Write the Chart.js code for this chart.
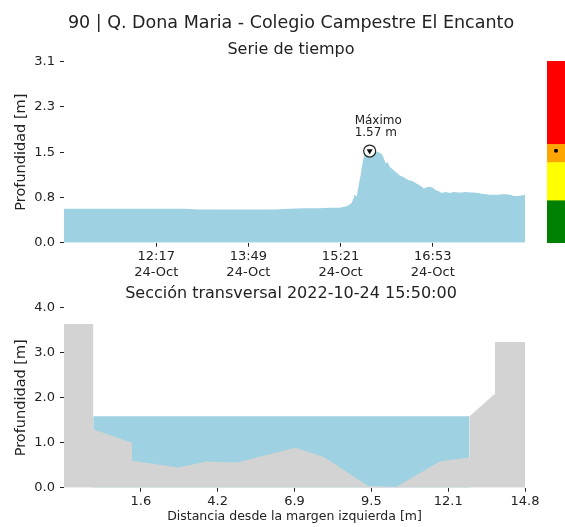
<!DOCTYPE html>
<html>
<head>
<meta charset="utf-8">
<script src="https://cdn.jsdelivr.net/npm/chart.js@4.4.1/dist/chart.umd.min.js"></script>
<style>
  html, body { margin: 0; padding: 0; background: #fff; overflow: hidden; }
  body { width: 565px; height: 527px; position: relative; font-family: 'DejaVu Sans', sans-serif; color: #222; }
  .title { position: absolute; left: 17px; width: 548px; text-align: center; white-space: nowrap; line-height: 20px; }
  canvas { position: absolute; }
</style>
</head>
<body>
<canvas id="seriesChart" width="565" height="285" style="left:0;top:0"></canvas>
<canvas id="levelBar" width="18" height="182" style="left:547px;top:61px"></canvas>
<canvas id="sectionChart" width="565" height="232" style="left:0;top:295px"></canvas>
<div class="title" id="mainTitle" style="top:12px;font-size:17.5px"></div>
<div class="title" id="seriesTitle" style="top:39px;font-size:16px"></div>
<div class="title" id="sectionTitle" style="top:283px;font-size:16px"></div>

<script>
// titles
const stationName = "90 | Q. Dona Maria - Colegio Campestre El Encanto";
const seriesName = "Serie de tiempo";
const sectionName = "Sección transversal 2022-10-24 15:50:00";

// time series (24-Oct), depth in m
const seriesTimes = ["10:45","11:00","11:15","11:30","11:45","12:00","12:15","12:30","12:45","13:00",
  "13:15","13:30","13:45","14:00","14:15","14:30","14:45","15:00","15:10","15:20",
  "15:26","15:29","15:32","15:34","15:35","15:37","15:39","15:41","15:43","15:45",
  "15:47","15:50","15:53","15:56","15:59","16:02","16:04","16:06","16:08","16:10",
  "16:12","16:14","16:17","16:20","16:23","16:26","16:29","16:32","16:35","16:38",
  "16:41","16:44","16:47","16:50","16:53","16:56","16:59","17:02","17:06","17:10",
  "17:14","17:18","17:22","17:26","17:30","17:34","17:38","17:42","17:46","17:50",
  "17:54","17:58","18:02","18:06","18:10","18:14","18:18","18:22","18:25"];
const seriesDepth = [0.58,0.58,0.58,0.58,0.58,0.58,0.58,0.58,0.58,0.57,
  0.57,0.57,0.57,0.57,0.57,0.58,0.59,0.59,0.60,0.60,
  0.62,0.64,0.68,0.76,0.82,0.79,0.98,1.16,1.38,1.52,
  1.55,1.57,1.55,1.56,1.55,1.52,1.45,1.36,1.38,1.30,
  1.27,1.24,1.20,1.15,1.13,1.10,1.07,1.06,1.03,1.00,
  0.97,0.93,0.95,0.96,0.94,0.90,0.88,0.85,0.87,0.85,
  0.87,0.86,0.86,0.87,0.86,0.86,0.85,0.84,0.83,0.82,
  0.82,0.82,0.83,0.83,0.82,0.80,0.80,0.81,0.82];
const seriesStart = "10:45";
const seriesEnd = "18:25";
const timeTicks = ["12:17","13:49","15:21","16:53"];
const tickDate = "24-Oct";
const depthTickValues = [0, 0.775, 1.55, 2.325, 3.1];
const depthTickLabels = ["0.0","0.8","1.5","2.3","3.1"];

// alert levels (m) and colours, bottom to top
const levelBounds = [0, 0.72, 1.37, 1.68, 3.1];
const levelColors = ["#008000", "#ffff00", "#ffa500", "#ff0000"];

// cross section
const bedX = [-1, 0, 0, 1.33, 1.33, 2.92, 3.89, 4.92, 6.92, 7.89, 9.43, 10.4, 11.89, 12.89, 12.9, 13.74, 13.77, 14.8];
const bedY = [3.64, 3.64, 1.3, 1.0, 0.6, 0.45, 0.58, 0.56, 0.89, 0.69, 0.04, 0.02, 0.59, 0.67, 1.59, 2.07, 3.24, 3.24];
const waterX = [0, 12.9];
const waterLevel = 1.59;
const distTickValues = [1.633, 4.267, 6.9, 9.533, 12.167, 14.8];
const distTickLabels = ["1.6","4.2","6.9","9.5","12.1","14.8"];

const WATER = "#9ed1e1";
const GROUND = "#d3d3d3";
const INK = "#222";

document.getElementById("mainTitle").textContent = stationName;
document.getElementById("seriesTitle").textContent = seriesName;
document.getElementById("sectionTitle").textContent = sectionName;

Chart.defaults.font.family = "'DejaVu Sans', sans-serif";
Chart.defaults.font.size = 13;
Chart.defaults.color = INK;

const toMin = s => { const [h, m] = s.split(":").map(Number); return h * 60 + m; };
const seriesPoints = seriesTimes.map((t, i) => ({ x: toMin(t), y: seriesDepth[i] }));
const peakIdx = seriesDepth.indexOf(Math.max(...seriesDepth));
const peak = seriesPoints[peakIdx];

const tickMarks = { display: true, drawOnChartArea: false, drawTicks: true, tickLength: 4, color: INK };

const peakLabel = {
  id: "peakLabel",
  afterDatasetsDraw(chart) {
    const { ctx, scales } = chart;
    const px = scales.x.getPixelForValue(peak.x);
    const py = scales.y.getPixelForValue(peak.y);
    ctx.save();
    ctx.font = "12px 'DejaVu Sans'";
    ctx.fillStyle = INK;
    ctx.textAlign = "left";
    ctx.textBaseline = "middle";
    ctx.fillText("Máximo", px - 15, py - 30);
    ctx.fillText(peak.y.toFixed(2) + " m", px - 15, py - 18);
    ctx.restore();
  }
};

// 1. time series
new Chart(document.getElementById("seriesChart"), {
  type: "line",
  data: {
    datasets: [
      { data: [peak], showLine: false, pointStyle: "triangle", rotation: 180, pointRadius: 3.5,
        pointBackgroundColor: "#111", pointBorderColor: "#111", pointBorderWidth: 0, order: 0 },
      { data: [peak], showLine: false, pointStyle: "circle", pointRadius: 6,
        pointBackgroundColor: "#fff", pointBorderColor: INK, pointBorderWidth: 1.2, order: 1 },
      { data: seriesPoints, fill: "origin", backgroundColor: WATER, borderColor: "rgba(0,0,0,0)",
        borderWidth: 0, pointRadius: 0, tension: 0, order: 2 }
    ]
  },
  options: {
    responsive: false,
    animation: false,
    layout: { autoPadding: false, padding: { top: 61.7, right: 40, left: 0, bottom: 0 } },
    plugins: { legend: { display: false }, tooltip: { enabled: false } },
    scales: {
      x: {
        type: "linear",
        min: toMin(seriesStart),
        max: toMin(seriesEnd),
        afterBuildTicks: s => { s.ticks = timeTicks.map(t => ({ value: toMin(t) })); },
        afterFit: s => { s.height = 42.3; },
        ticks: {
          autoSkip: false, maxRotation: 0, padding: 1.5,
          font: { size: 13, lineHeight: 1.27 },
          callback: v => [timeTicks[timeTicks.map(toMin).indexOf(v)], tickDate]
        },
        grid: tickMarks,
        border: { display: false }
      },
      y: {
        min: 0,
        max: 3.1,
        afterBuildTicks: s => { s.ticks = depthTickValues.map(v => ({ value: v })); },
        afterFit: s => { s.width = 64; },
        ticks: { padding: 5, callback: v => depthTickLabels[depthTickValues.indexOf(v)] },
        grid: tickMarks,
        border: { display: false },
        title: { display: true, text: "Profundidad [m]", font: { size: 14.5 }, padding: { top: 12.3, bottom: 0 } }
      }
    }
  },
  plugins: [peakLabel]
});

// 2. alert level bar
new Chart(document.getElementById("levelBar"), {
  type: "bar",
  data: {
    labels: ["nivel"],
    datasets: [
      { type: "line", data: [peak.y], showLine: false, pointRadius: 2,
        pointBackgroundColor: "#000", pointBorderWidth: 0, order: 0 },
      ...levelColors.map((c, i) => ({
        data: [[levelBounds[i], levelBounds[i + 1]]],
        backgroundColor: c, borderWidth: 0, grouped: false,
        barPercentage: 1, categoryPercentage: 1, order: 1
      }))
    ]
  },
  options: {
    responsive: false,
    animation: false,
    layout: { autoPadding: false, padding: 0 },
    plugins: { legend: { display: false }, tooltip: { enabled: false } },
    scales: {
      x: { display: false },
      y: { display: false, min: 0, max: 3.1 }
    }
  }
});

// 3. cross section
new Chart(document.getElementById("sectionChart"), {
  type: "line",
  data: {
    datasets: [
      { data: bedX.map((x, i) => ({ x, y: bedY[i] })), fill: "origin", backgroundColor: GROUND,
        borderColor: "rgba(0,0,0,0)", borderWidth: 0, pointRadius: 0, tension: 0, order: 0 },
      { data: waterX.map(x => ({ x, y: waterLevel })), fill: "origin", backgroundColor: WATER,
        borderColor: "rgba(0,0,0,0)", borderWidth: 0, pointRadius: 0, tension: 0, order: 1 }
    ]
  },
  options: {
    responsive: false,
    animation: false,
    layout: { autoPadding: false, padding: { top: 11.7, right: 40, left: 0, bottom: 0 } },
    plugins: { legend: { display: false }, tooltip: { enabled: false } },
    scales: {
      x: {
        type: "linear",
        min: -1,
        max: 14.8,
        afterBuildTicks: s => { s.ticks = distTickValues.map(v => ({ value: v })); },
        afterFit: s => { s.height = 39.3; },
        ticks: { autoSkip: false, maxRotation: 0, padding: 2,
          callback: v => distTickLabels[distTickValues.indexOf(v)] },
        grid: tickMarks,
        border: { display: false },
        title: { display: true, text: "Distancia desde la margen izquierda [m]",
          font: { size: 12.5 }, padding: { top: 0, bottom: 3 } }
      },
      y: {
        min: 0,
        max: 4,
        ticks: { stepSize: 1, padding: 5, callback: v => v.toFixed(1) },
        afterFit: s => { s.width = 64; },
        grid: tickMarks,
        border: { display: false },
        title: { display: true, text: "Profundidad [m]", font: { size: 14.5 }, padding: { top: 12.3, bottom: 0 } }
      }
    }
  }
});
</script>
</body>
</html>
